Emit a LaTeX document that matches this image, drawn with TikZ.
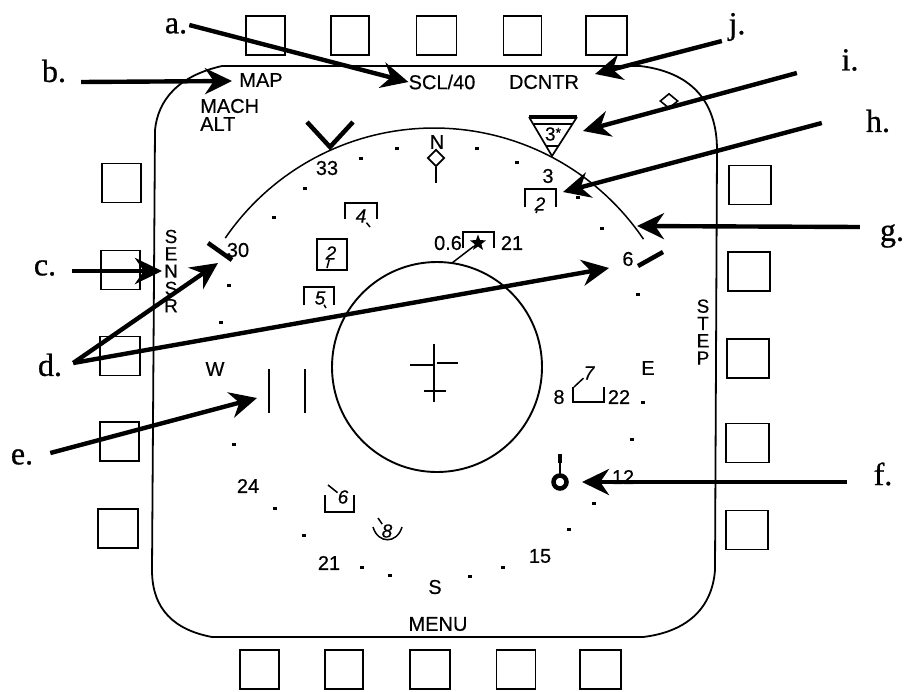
\documentclass[tikz,border=0pt]{standalone}
\usepackage{fontspec}
\setmainfont{Liberation Sans}[FakeBold=0.4]
\newfontfamily\labelfont{Liberation Serif}[FakeBold=0.8]
\usetikzlibrary{arrows.meta,calc,shapes.geometric}

\begin{document}
\begin{tikzpicture}[
  x=1pt, y=-1pt,
  every node/.style={font=\fontsize{20}{20}\selectfont, inner sep=0pt},
  softkey/.style={draw, line width=1.8pt, minimum height=39pt},
  callout/.style={font=\labelfont\fontsize{32}{32}\selectfont},
  stacked/.style={align=center, font=\fontsize{19}{17.3}\selectfont},
  tracknum/.style={font=\itshape\fontsize{19}{19}\selectfont},
  trackbox/.style={line width=1.7pt},
  tail/.style={line width=1.5pt},
  bar/.style={line width=4.5pt},
  arrow/.style={-{Stealth[length=27pt,width=26pt]}, line width=4.4pt}
]
\useasboundingbox (0,0) rectangle (907,691);

% ---------- Softkeys round the display ----------
\foreach \px/\py/\pw [count=\n] in {
  265.5/35.5/39, 350/35.5/38, 436.5/35.5/40, 522.5/35.5/38, 606.5/35.5/41,
  259.5/669.5/39, 344/669.5/38, 430/669.5/40, 516/669.5/39, 600.5/669.5/41,
  121.5/183/39, 120.5/270/39, 120/356/40, 119.5/441.5/39, 118/528.5/40,
  750/185/42, 749/271.5/42, 748/358.5/42, 747.5/443/43, 747/530/42}
  \node[softkey, minimum width=\pw pt] (key\n) at (\px,\py) {};

% ---------- Display outline and range rings ----------
\draw[line width=1.8pt] (222,66) -- (640,66) .. controls (690,72) and (717,100) .. (717,150)
  -- (715,570) .. controls (712,610) and (685,632) .. (643,637) -- (212,637)
  .. controls (175,630) and (152,610) .. (152,570) -- (155,130)
  .. controls (158,100) and (178,76) .. (222,66);
\draw[line width=1.5pt] plot[domain=-145.6:-34.1, samples=70] ({434+253*cos(\x)},{381+253*sin(\x)});
\draw[line width=1.9pt] (437,367) circle[radius=105];

% ---------- Compass dots ----------
\foreach \px/\py in {397/148, 361/158, 305/188, 274/217, 229/285, 221/322,
  477/148, 517/162, 578/197, 602/228, 638/294,
  234/444, 275/508, 304/535, 362/567, 390/575, 470/576,
  643/402, 632/439, 594/503, 569/529, 503/567}
  \fill (\px-2.4,\py-1.5) rectangle (\px+2.4,\py+1.5);

% ---------- Menu texts ----------
\node (map) at (261,80) {MAP};
\node (scl) at (442,82) {SCL/40};
\node (dcntr) at (544,82) {DCNTR};
\node[anchor=west] (mach) at (200,106) {MACH};
\node[anchor=west] (alt) at (200,124) {ALT};
\node (menu) at (438,624) {MENU};
\node[stacked] (sensr) at (171,271) {S\\E\\N\\S\\R};
\node[stacked] (stepl) at (703,332) {S\\T\\E\\P};

% ---------- Compass marks ----------
\node (mark33) at (327,168) {33};
\node (mark30) at (238,250) {30};
\node (mark3) at (548,176) {3};
\node (mark6) at (628,259) {6};
\node (markw) at (215,369) {W};
\node (marke) at (648,368) {E};
\node (mark12) at (623,477) {12};
\node (mark15) at (540,556) {15};
\node (marks) at (435,587) {S};
\node (mark21) at (329,563) {21};
\node (mark24) at (248,486) {24};
\node (north) at (437,142) {N};
\node[draw, diamond, line width=1.7pt, minimum width=17pt, minimum height=17pt] (rose) at (436,158) {};
\coordinate (rosefoot) at (436,183);
\draw[line width=1.7pt] (rose) -- (rosefoot);
\draw[bar] (208,243) -- (232,260);
\draw[bar] (638,266) -- (663,252);
\draw[bar] (307,122) -- (330,147) -- (353,122);

% ---------- Tracks ----------
\draw[trackbox] (345,219) |- (377,203) -- (377,219);
\node[tracknum] (trk4) at (361,216) {4};
\draw[tail] (trk4) -- (370,227);
\draw[trackbox] (317,239) rectangle (347,270);
\node[tracknum] (trk2) at (331,253) {2};
\draw[tail] (trk2) -- (327,268);
\draw[trackbox] (304,305) |- (334,287) -- (334,305);
\node[tracknum] (trk5) at (320,298) {5};
\draw[tail] (trk5) -- (326,308);
\draw[trackbox] (525,207) |- (556,189) -- (556,207);
\node[tracknum] (trk3) at (540,204) {2};
\draw[tail] (trk3) -- (536,213);

\draw[trackbox] (463,248) |- (494,232) -- (494,248);
\node[star, star points=5, star point ratio=2.4, fill, minimum size=17pt] (target) at (478,243) {};
\node (range) at (448,243) {0.6};
\node (speed) at (512,243) {21};
\draw[tail] (target) -- (452,263);

\draw[trackbox] (573,387) |- (604,402) -- (604,387);
\node[tracknum] (trk7) at (589,373) {7};
\draw[tail] (trk7) -- (574,387);
\node (range7) at (559,397) {8};
\node (speed7) at (619,397) {22};

\draw[trackbox] (325,495) |- (354,512) -- (354,495);
\node[tracknum] (trk6) at (343,497) {6};
\draw[tail] (trk6) -- (328,485);

\node[tracknum] (trk8) at (387,531) {8};
\draw[tail] (373,527) .. controls (378,544) and (397,544) .. (402,527);
\draw[tail] (trk8) -- (378,518);

% threat triangle
\draw[line width=1.7pt] (529,117) -- (552,156) -- (577,117);
\draw[line width=3.4pt] (529,117) -- (577,117);
\draw[line width=1.4pt] (534,124) -- (572,124);
\draw[line width=1.4pt] (546,146) -- (558,146);
\node[font=\fontsize{19}{19}\selectfont] (threat) at (553,134) {3\raisebox{3pt}{\fontsize{14}{14}\selectfont *}};

% ownship and steerpoint
\draw[line width=1.7pt] (434,344) -- (434,402);
\draw[line width=1.7pt] (410,365) -- (434,365);
\draw[line width=1.7pt] (437,363) -- (458,363);
\draw[line width=1.7pt] (424,391) -- (446,391);
\draw[line width=1.7pt] (269,369) -- (269,413);
\draw[line width=1.7pt] (305,369) -- (305,413);
\draw[line width=4.5pt] (560,482) circle[radius=6.5];
\draw[line width=1.7pt] (560,475) -- (560,455);
\draw[line width=4.5pt] (560,454) -- (560,463);
\node[draw, diamond, line width=1.6pt, minimum width=18pt, minimum height=15pt] (cue) at (669,101) {};

% ---------- Callouts ----------
\node[callout] (laba) at (176,26) {a.};
\node[callout] (labb) at (54,71) {b.};
\node[callout] (labc) at (45,268) {c.};
\node[callout] (labd) at (50,365) {d.};
\node[callout] (labe) at (22,457) {e.};
\node[callout] (labf) at (883,474) {f.};
\node[callout] (labg) at (892,236) {g.};
\node[callout] (labh) at (878,121) {h.};
\node[callout] (labi) at (850,60) {i.};
\node[callout] (labj) at (737,27) {j.};

\coordinate (tipb) at (232,81);
\coordinate (tipc) at (162,271);
\coordinate (tipd) at (218,263);
\coordinate (tipdd) at (609,268);
\coordinate (tipe) at (257,398);
\coordinate (tipf) at (582,482);
\coordinate (tipg) at (637,226);
\coordinate (tiph) at (563,192);
\coordinate (tipi) at (583,131);
\coordinate (tipj) at (595,74);

\draw[arrow] ([shift={(2,-1)}]laba.east) -- (scl.west);
\draw[arrow] ([shift={(15,11)}]labb.east) -- (tipb);
\draw[arrow] ([shift={(16,3)}]labc.east) -- (tipc);
\draw[arrow] ([shift={(11,-2)}]labd.east) -- (tipd);
\draw[arrow] ([shift={(11,-2)}]labd.east) -- (tipdd);
\draw[arrow] ([shift={(17,-4)}]labe.east) -- (tipe);
\draw[arrow] ([shift={(-26,8)}]labf.west) -- (tipf);
\draw[arrow] ([shift={(-20,-9)}]labg.west) -- (tipg);
\draw[arrow] ([shift={(-44,2)}]labh.west) -- (tiph);
\draw[arrow] ([shift={(-44.5,13)}]labi.west) -- (tipi);
\draw[arrow] ([shift={(-6.5,14)}]labj.west) -- (tipj);
\end{tikzpicture}
\end{document}
